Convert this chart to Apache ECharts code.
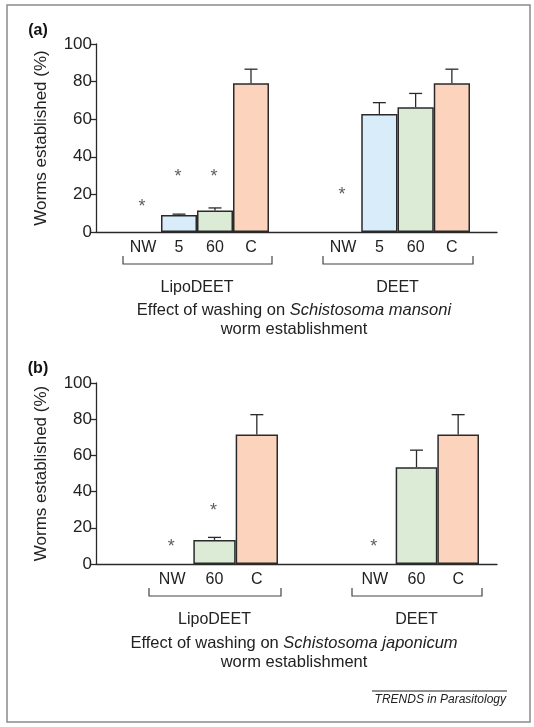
<!DOCTYPE html>
<html><head><meta charset="utf-8">
<script src="https://cdn.jsdelivr.net/npm/echarts@6/dist/echarts.min.js"></script>
<style>html,body{margin:0;padding:0;background:#fff}#c{width:534px;height:727px}</style>
</head><body><div id="c"></div>
<script>
// ---- data ----
const categoriesA = ['NW', '5', '60', 'C'];
const categoriesB = ['NW', '60', 'C'];
const groupNames = ['LipoDEET', 'DEET'];
const yTickStep = 20;
const aLipo      = [0, 9.0, 11.5, 79.1];
const aLipoErr   = [0, 0.5, 1.3, 7.5];
const aLipoStar  = [16, 32, 32, null];
const aDeet      = [0, 62.8, 66.4, 79.1];
const aDeetErr   = [0, 6.0, 7.3, 7.5];
const aDeetStar  = [22.5, null, null, null];
const bLipo      = [0, 13.3, 71.5];
const bLipoErr   = [0, 1.4, 11.0];
const bLipoStar  = [12, 32, null];
const bDeet      = [0, 53.5, 71.5];
const bDeetErr   = [0, 9.4, 11.0];
const bDeetStar  = [12, null, null];
const captionA = ['Effect of washing on ', 'Schistosoma mansoni', 'worm establishment'];
const captionB = ['Effect of washing on ', 'Schistosoma japonicum', 'worm establishment'];
const yTitle = 'Worms established (%)';
const footer = 'TRENDS in Parasitology';

// ---- styles / layout ----
const FONT = '"Liberation Sans", Arial, sans-serif';
const INK = '#2a2a2a';
const FILL = { 'NW': '#ffffff', '5': '#d9ecfa', '60': '#dcebd5', 'C': '#fcd3bd' };

const panels = [
  { top: 44, height: 188, cats: categoriesA, groups: [
      { left: 125, width: 144, vals: aLipo, err: aLipoErr, star: aLipoStar },
      { left: 325, width: 145, vals: aDeet, err: aDeetErr, star: aDeetStar } ],
    caption: captionA, capY: 310, tag: '(a)', tagY: 31 },
  { top: 383, height: 181, cats: categoriesB, groups: [
      { left: 151, width: 127, vals: bLipo, err: bLipoErr, star: bLipoStar },
      { left: 354, width: 125, vals: bDeet, err: bDeetErr, star: bDeetStar } ],
    caption: captionB, capY: 643, tag: '(b)', tagY: 369 }
];
const AX_LEFT = 96, AX_RIGHT = 497;

const grid = [], xAxis = [], yAxis = [], series = [], graphic = [];

panels.forEach((p, pi) => {
  const gi = grid.length;
  grid.push({ left: AX_LEFT, top: p.top, width: AX_RIGHT - AX_LEFT, height: p.height });
  xAxis.push({ gridIndex: gi, type: 'value', min: 0, max: 1,
    axisLine: { show: true, lineStyle: { color: INK, width: 1.3 } },
    axisTick: { show: false }, axisLabel: { show: false }, splitLine: { show: false } });
  yAxis.push({ gridIndex: gi, type: 'value', min: 0, max: 100, interval: yTickStep,
    axisLine: { show: true, lineStyle: { color: INK, width: 1.3 } },
    axisTick: { show: true, length: 5, lineStyle: { color: INK, width: 1.3 } },
    axisLabel: { fontFamily: FONT, fontSize: 17, color: '#222', margin: 4 },
    splitLine: { show: false },
    name: yTitle, nameLocation: 'middle', nameRotate: 90, nameGap: 46,
    nameTextStyle: { fontFamily: FONT, fontSize: 17, color: '#222' } });

  p.groups.forEach((g, k) => {
    const gj = grid.length;
    grid.push({ left: g.left, top: p.top, width: g.width, height: p.height });
    xAxis.push({ gridIndex: gj, type: 'category', data: p.cats, boundaryGap: true,
      axisLine: { show: false }, axisTick: { show: false },
      axisLabel: { fontFamily: FONT, fontSize: 16, color: '#222', margin: 8 },
      name: groupNames[k], nameLocation: 'middle', nameGap: 48,
      nameTextStyle: { fontFamily: FONT, fontSize: 16, color: '#222' } });
    yAxis.push({ gridIndex: gj, type: 'value', min: 0, max: 100, show: false });
    series.push({ type: 'bar', xAxisIndex: gj, yAxisIndex: gj, barWidth: '100%', z: 2,
      data: g.vals.map((v, i) => ({ value: v === 0 ? '-' : v,
        itemStyle: { color: FILL[p.cats[i]], borderColor: INK, borderWidth: 1.5 } })) });
    series.push({ type: 'custom', xAxisIndex: gj, yAxisIndex: gj, z: 3,
      data: g.vals.map((v, i) => [i, v, v + g.err[i]]).filter(d => d[2] > d[1]),
      renderItem: (params, api) => {
        const a = api.coord([api.value(0), api.value(1)]);
        const b = api.coord([api.value(0), api.value(2)]);
        const st = { stroke: INK, lineWidth: 1.3 };
        return { type: 'group', children: [
          { type: 'line', shape: { x1: a[0], y1: a[1], x2: b[0], y2: b[1] }, style: st },
          { type: 'line', shape: { x1: b[0] - 6.5, y1: b[1], x2: b[0] + 6.5, y2: b[1] }, style: st } ] };
      } });
    series.push({ type: 'scatter', xAxisIndex: gj, yAxisIndex: gj, symbolSize: 0, silent: true,
      data: g.star.map((s, i) => [i, s]).filter(d => d[1] != null),
      label: { show: true, position: 'inside', formatter: '*', fontFamily: FONT, fontSize: 18,
        color: '#333', offset: [-1, 5] } });
    const bx1 = g.left - 2, bx2 = g.left + g.width + 3;
    const by = p.top + p.height + 32;
    graphic.push({ type: 'polyline', silent: true,
      shape: { points: [[bx1, by - 8], [bx1, by], [bx2, by], [bx2, by - 8]] },
      style: { stroke: '#444', lineWidth: 1.2, fill: null } });
  });

  graphic.push({ type: 'text', x: 294, y: p.capY, silent: true,
    style: { text: '{n|' + p.caption[0] + '}{i|' + p.caption[1] + '}',
      align: 'center', verticalAlign: 'middle',
      rich: { n: { fontFamily: FONT, fontSize: 16.5, fill: '#222' },
              i: { fontFamily: FONT, fontSize: 16.5, fontStyle: 'italic', fill: '#222' } } } });
  graphic.push({ type: 'text', x: 294, y: p.capY + 19, silent: true,
    style: { text: p.caption[2], align: 'center', verticalAlign: 'middle',
      font: '16.5px ' + FONT, fill: '#222' } });
  graphic.push({ type: 'text', x: 38, y: p.tagY, silent: true,
    style: { text: p.tag, align: 'center', verticalAlign: 'middle',
      font: 'bold 16px ' + FONT, fill: '#111' } });
});

graphic.push({ type: 'rect', silent: true, shape: { x: 7, y: 5, width: 523, height: 717 },
  style: { fill: null, stroke: '#8a8a8a', lineWidth: 1.5 }, z: -1 });
graphic.push({ type: 'line', silent: true, shape: { x1: 372, y1: 691, x2: 507, y2: 691 },
  style: { stroke: '#222', lineWidth: 1 } });
graphic.push({ type: 'text', x: 506, y: 700, silent: true,
  style: { text: footer, align: 'right', verticalAlign: 'middle',
    font: 'italic 12px ' + FONT, fill: '#222' } });

const chart = echarts.init(document.getElementById('c'), null, { renderer: 'canvas' });
chart.setOption({ animation: false, backgroundColor: '#fff', grid, xAxis, yAxis, series, graphic });
</script>
</body></html>
